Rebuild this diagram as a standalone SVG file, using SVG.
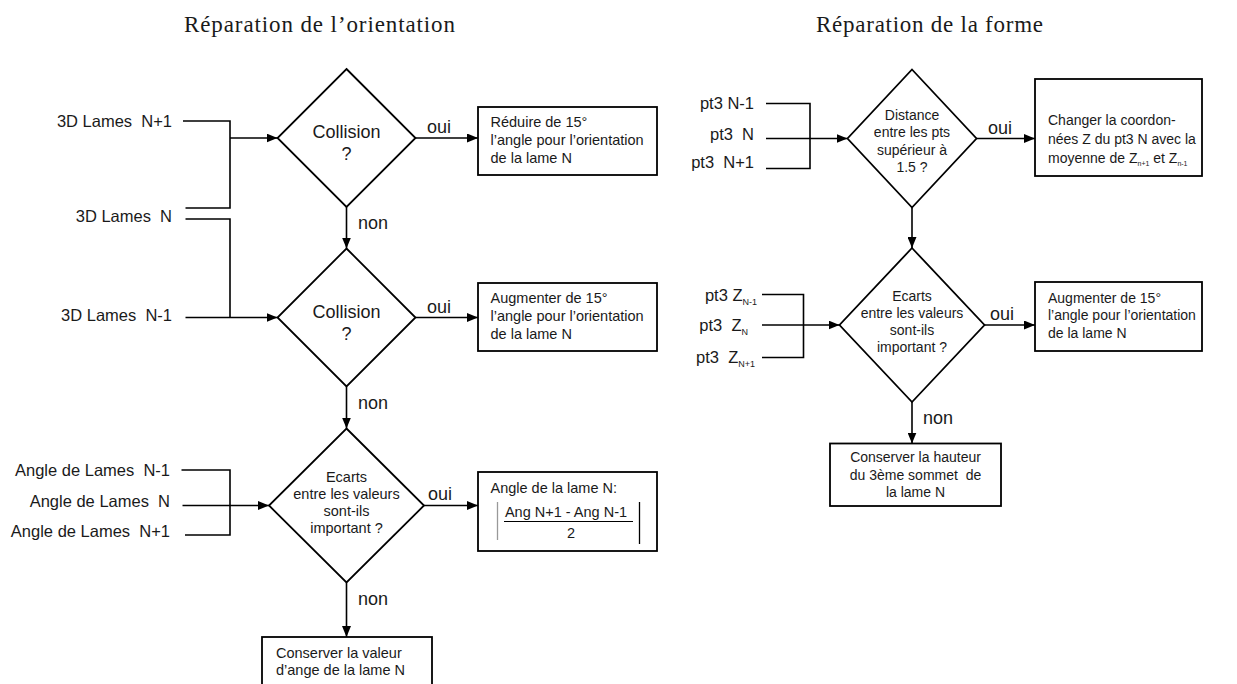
<svg xmlns="http://www.w3.org/2000/svg" width="1237" height="684" viewBox="0 0 1237 684">
<defs>
<marker id="ah" markerUnits="userSpaceOnUse" markerWidth="11" markerHeight="9" refX="11" refY="4.5" orient="auto">
<path d="M0,0 L11,4.5 L0,9 z" fill="#000"/>
</marker>
<style>
.t{font-family:"Liberation Sans",Arial,sans-serif;fill:#1a1a1a}
.title{font-family:"Liberation Serif","Times New Roman",serif;font-size:23px;fill:#1a1a1a}
.lbl{font-size:16.5px}
.big{font-size:18px}
.sm{font-size:14.5px}
.rs{font-size:14px}
.shape{fill:#fff;stroke:#000;stroke-width:1.8}
.ln{fill:none;stroke:#000;stroke-width:1.6}
.arr{fill:none;stroke:#000;stroke-width:1.6;marker-end:url(#ah)}
</style>
</defs>
<rect width="1237" height="684" fill="#fff"/>

<text class="title" x="184" y="32" textLength="271" lengthAdjust="spacing">Réparation de l’orientation</text>
<text class="title" x="816" y="32" textLength="227" lengthAdjust="spacing">Réparation de la forme</text>

<g id="connectors">
<polyline class="ln" points="183,121 230,121 230,208 185.5,208"/>
<line class="arr" x1="230" y1="138" x2="277.5" y2="138"/>
<polyline class="ln" points="185.5,219 230,219 230,317.5"/>
<line class="arr" x1="185.5" y1="317.5" x2="277.5" y2="317.5"/>
<line class="arr" x1="346.5" y1="207" x2="346.5" y2="248.5"/>
<line class="arr" x1="346.5" y1="386.5" x2="346.5" y2="428.5"/>
<line class="arr" x1="415.5" y1="138" x2="478" y2="138"/>
<line class="arr" x1="415.5" y1="317.5" x2="478" y2="317.5"/>
<line class="arr" x1="424" y1="505.5" x2="478" y2="505.5"/>
<line class="arr" x1="346.5" y1="582.5" x2="346.5" y2="637"/>
<polyline class="ln" points="181.5,470 230,470 230,535 185,535"/>
<line class="arr" x1="182.5" y1="505.5" x2="269" y2="505.5"/>

<polyline class="ln" points="766,103.5 810,103.5 810,168.5 766,168.5"/>
<line class="arr" x1="766" y1="138.5" x2="847.5" y2="138.5"/>
<line class="arr" x1="976.5" y1="138.5" x2="1035" y2="138.5"/>
<line class="arr" x1="912" y1="207.5" x2="912" y2="248"/>
<polyline class="ln" points="762,294.5 803.5,294.5 803.5,357.5 762,357.5"/>
<line class="arr" x1="762" y1="325" x2="839.5" y2="325"/>
<line class="arr" x1="984.5" y1="325" x2="1035" y2="325"/>
<line class="arr" x1="912" y1="402" x2="912" y2="443.5"/>
</g>

<g id="labels" class="t">
<text class="lbl" x="172" y="127" text-anchor="end">3D Lames&#160; N+1</text>
<text class="lbl" x="172" y="222" text-anchor="end">3D Lames&#160; N</text>
<text class="lbl" x="172" y="321" text-anchor="end">3D Lames&#160; N-1</text>
<text class="lbl" x="170" y="475.5" text-anchor="end">Angle de Lames&#160; N-1</text>
<text class="lbl" x="170" y="507" text-anchor="end">Angle de Lames&#160; N</text>
<text class="lbl" x="170" y="537" text-anchor="end">Angle de Lames&#160; N+1</text>
<text class="big" x="427" y="133">oui</text>
<text class="big" x="427" y="312.5">oui</text>
<text class="big" x="428" y="500">oui</text>
<text class="big" x="358" y="229">non</text>
<text class="big" x="358" y="408.5">non</text>
<text class="big" x="358" y="605">non</text>

<text class="lbl" x="754" y="108.5" text-anchor="end">pt3 N-1</text>
<text class="lbl" x="754" y="139.5" text-anchor="end">pt3&#160; N</text>
<text class="lbl" x="754" y="167.5" text-anchor="end">pt3&#160; N+1</text>
<text class="lbl" x="757" y="301" text-anchor="end">pt3 Z<tspan font-size="9" dy="4">N-1</tspan></text>
<text class="lbl" x="748" y="331" text-anchor="end">pt3&#160; Z<tspan font-size="9" dy="4">N</tspan></text>
<text class="lbl" x="755" y="363" text-anchor="end">pt3&#160; Z<tspan font-size="9" dy="4">N+1</tspan></text>
<text class="big" x="988" y="133.5">oui</text>
<text class="big" x="990" y="320">oui</text>
<text class="big" x="923" y="424">non</text>
</g>

<g id="d1">
<polygon class="shape" points="346.5,69 415.5,138 346.5,207 277.5,138"/>
<text class="t big" x="346.5" y="138" text-anchor="middle">Collision</text>
<text class="t big" x="346.5" y="160" text-anchor="middle">?</text>
</g>
<g id="d2">
<polygon class="shape" points="346.5,248.5 415.5,317.5 346.5,386.5 277.5,317.5"/>
<text class="t big" x="346.5" y="318" text-anchor="middle">Collision</text>
<text class="t big" x="346.5" y="340" text-anchor="middle">?</text>
</g>
<g id="d3">
<polygon class="shape" points="346.5,428.5 424,505.5 346.5,582.5 269,505.5"/>
<g class="t sm" text-anchor="middle">
<text x="346.5" y="481.5">Ecarts</text>
<text x="346.5" y="498.5">entre les valeurs</text>
<text x="346.5" y="515.5">sont-ils</text>
<text x="346.5" y="532.5">important ?</text>
</g>
</g>
<g id="b1">
<rect class="shape" x="478" y="107" width="179" height="68"/>
<g class="t sm">
<text x="490.5" y="126.5">Réduire de 15°</text>
<text x="490.5" y="144.5">l’angle pour l’orientation</text>
<text x="490.5" y="162.5">de la lame N</text>
</g>
</g>
<g id="b2">
<rect class="shape" x="478" y="283" width="179" height="68"/>
<g class="t sm">
<text x="490.5" y="303">Augmenter de 15°</text>
<text x="490.5" y="321">l’angle pour l’orientation</text>
<text x="490.5" y="339">de la lame N</text>
</g>
</g>
<g id="b3">
<rect class="shape" x="478" y="472" width="179" height="79"/>
<g class="t sm">
<text x="490.5" y="492.5">Angle de la lame N:</text>
<text x="566" y="517" text-anchor="middle">Ang N+1 - Ang N-1</text>
<text x="571" y="538" text-anchor="middle">2</text>
</g>
<line x1="497.5" y1="502" x2="497.5" y2="540" stroke="#999" stroke-width="1.3"/>
<line x1="639.5" y1="502" x2="639.5" y2="544" stroke="#000" stroke-width="1.3"/>
<line x1="504" y1="521.5" x2="633" y2="521.5" stroke="#000" stroke-width="1"/>
</g>
<g id="b4">
<rect class="shape" x="262" y="637" width="170" height="60"/>
<g class="t sm">
<text x="276" y="657.5">Conserver la valeur</text>
<text x="276" y="675">d’ange de la lame N</text>
</g>
</g>

<g id="d4">
<polygon class="shape" points="912,69.5 976.5,138.5 912,207.5 847.5,138.5"/>
<g class="t rs" text-anchor="middle">
<text x="912" y="119.5">Distance</text>
<text x="912" y="137">entre les pts</text>
<text x="912" y="154.5">supérieur à</text>
<text x="912" y="172">1.5 ?</text>
</g>
</g>
<g id="b5">
<rect class="shape" x="1035" y="79" width="167" height="97"/>
<g class="t rs">
<text x="1048" y="125">Changer la coordon-</text>
<text x="1048" y="144">nées Z du pt3 N avec la</text>
<text x="1048" y="163">moyenne de Z<tspan font-size="7" dy="3">n+1</tspan><tspan dy="-3"> et Z</tspan><tspan font-size="7" dy="3">n-1</tspan></text>
</g>
</g>
<g id="d5">
<polygon class="shape" points="912,248 984.5,325 912,402 839.5,325"/>
<g class="t rs" text-anchor="middle">
<text x="912" y="300.5">Ecarts</text>
<text x="912" y="317.5">entre les valeurs</text>
<text x="912" y="334.5">sont-ils</text>
<text x="912" y="351.5">important ?</text>
</g>
</g>
<g id="b6">
<rect class="shape" x="1035" y="282" width="167" height="69"/>
<g class="t rs">
<text x="1048" y="302.5">Augmenter de 15°</text>
<text x="1048" y="320">l’angle pour l’orientation</text>
<text x="1048" y="338">de la lame N</text>
</g>
</g>
<g id="b7">
<rect class="shape" x="830" y="443.5" width="171" height="62.5"/>
<g class="t rs" text-anchor="middle">
<text x="915.5" y="461.5">Conserver la hauteur</text>
<text x="915.5" y="480">du 3ème sommet&#160; de</text>
<text x="915.5" y="497">la lame N</text>
</g>
</g>
</svg>
